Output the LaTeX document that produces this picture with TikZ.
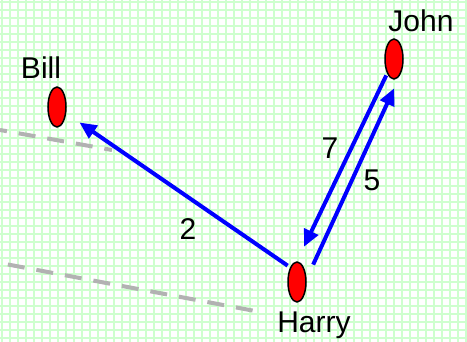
\documentclass[tikz,border=0pt]{standalone}
\usepackage{fontspec}
\setmainfont{Liberation Sans}
\usetikzlibrary{positioning,arrows.meta,shapes.geometric}
\definecolor{gridgreen}{RGB}{206,255,206}
\definecolor{dashgray}{RGB}{178,178,178}
\definecolor{linkblue}{RGB}{0,0,255}

\begin{document}
\begin{tikzpicture}[
  x=1pt, y=-1pt,
  font=\fontsize{30}{36}\selectfont,
  person/.style={ellipse, draw, fill=red, line width=1.5pt,
                 minimum width=18pt, minimum height=40pt, inner sep=0pt},
  lbl/.style={anchor=base, inner sep=0pt},
  gridline/.style={gridgreen, line width=2.8pt},
  trail/.style={dashgray, line width=4pt, dash pattern=on 17pt off 12pt},
  ar/.style={linkblue, line width=4pt, -{Triangle[length=17pt,width=15pt]}},
]
\useasboundingbox (0,0) rectangle (467,342);
\fill[white] (0,0) rectangle (467,342);

% grid paper
\foreach \gx in {2,10,...,466} {
  \draw[gridline] (\gx,0) -- (\gx,342);
}
\foreach \gy in {2,10,...,338} {
  \draw[gridline] (0,\gy) -- (467,\gy);
}

% faded trails
\coordinate (u1) at (0,130);
\coordinate (u2) at (112,150);
\coordinate (l1) at (0,263);
\coordinate (l2) at (255,311);
\draw[trail, dash phase=10pt] (u1) -- (u2);
\draw[trail, dash phase=21pt] (l1) -- (l2);

% people
\node[person] (bill) at (57,107) {};
\node[person] (harry) at (297,282) {};
\node[person] (john) at (394,59) {};
\node[lbl] (billname) at (41,79) {Bill};
\node[lbl] (johnname) at (421,32) {John};
\node[lbl] (harryname) at (314,333) {Harry};

% links
\draw[ar, shorten <=3pt, shorten >=16pt] (harry.north west) -- (bill);
\draw[ar, shorten <=2pt, shorten >=16pt] (john.south west) -- (harry.north);
\draw[ar, shorten <=3pt, shorten >=16pt]
  ([xshift=8pt]harry.north east) -- (john.south east);
\node[lbl] (w2) at (188,240) {2};
\node[lbl] (w7) at (330,159) {7};
\node[lbl] (w5) at (372,191) {5};
\end{tikzpicture}
\end{document}
